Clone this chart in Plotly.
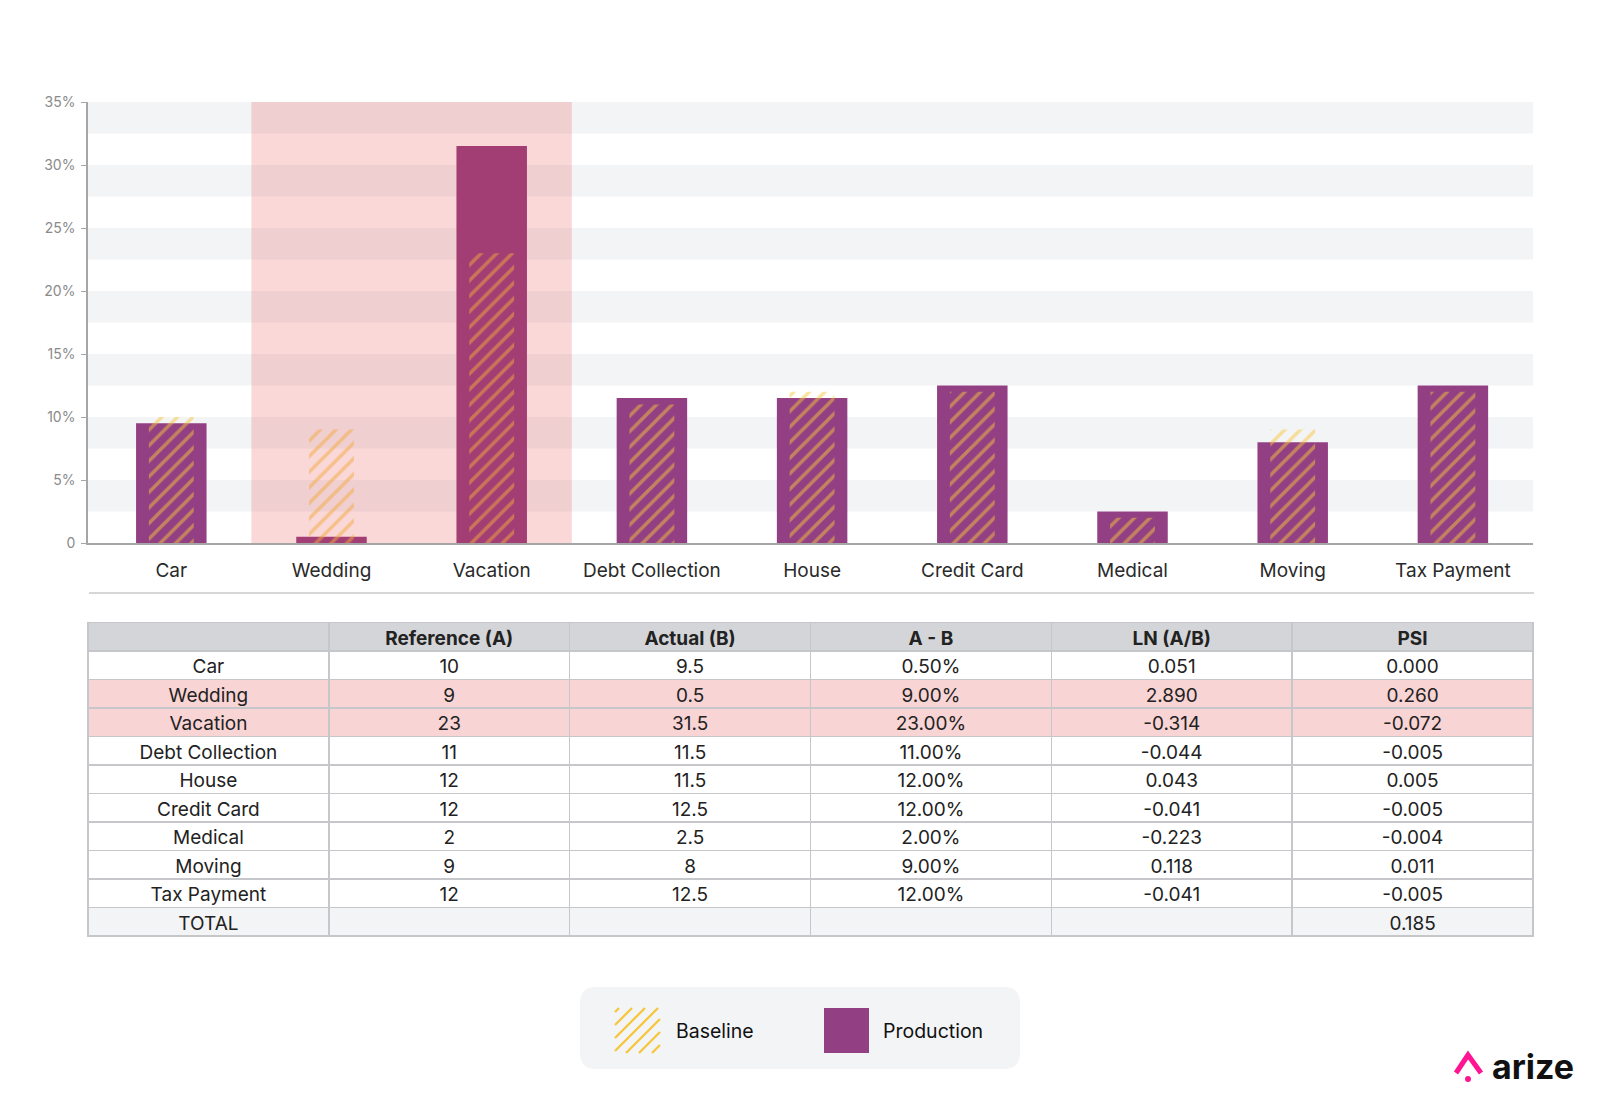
import plotly.graph_objects as go

W, H = 1600, 1104
FONT = "Inter, 'Noto Sans', sans-serif"

categories = ["Car", "Wedding", "Vacation", "Debt Collection", "House",
              "Credit Card", "Medical", "Moving", "Tax Payment"]
baseline = [10, 9, 23, 11, 12, 12, 2, 9, 12]            # Reference (A), %
production = [9.5, 0.5, 31.5, 11.5, 11.5, 12.5, 2.5, 8, 12.5]  # Actual (B), %
a_minus_b = ["0.50%", "9.00%", "23.00%", "11.00%", "12.00%", "12.00%",
             "2.00%", "9.00%", "12.00%"]
ln_ab = ["0.051", "2.890", "-0.314", "-0.044", "0.043", "-0.041",
         "-0.223", "0.118", "-0.041"]
psi = ["0.000", "0.260", "-0.072", "-0.005", "0.005", "-0.005",
       "-0.004", "0.011", "-0.005"]
psi_total = "0.185"
flagged = ["Wedding", "Vacation"]

y_ticks = [0, 5, 10, 15, 20, 25, 30, 35]
y_tick_text = ["0", "5%", "10%", "15%", "20%", "25%", "30%", "35%"]
header = ["", "Reference (A)", "Actual (B)", "A - B", "LN (A/B)", "PSI"]

PURPLE = "#933f83"
YELLOW = "#f7c63c"
PINK_ROW = "#f9d4d4"
BAND = "#f3f4f6"
HEAD = "#d4d5d8"


def px(x):
    return x / W


def py(y):
    return 1 - y / H


# ── Chart ─────────────────────────────────────────────────────────────────────
fig = go.Figure()
fig.add_trace(go.Bar(x=categories, y=production, name="Production",
                     width=0.44, marker=dict(color=PURPLE, line_width=0)))
fig.add_trace(go.Bar(x=categories, y=baseline, name="Baseline", width=0.28,
                     marker=dict(color="rgba(0,0,0,0)", line_width=0,
                                 pattern=dict(shape="/", fgcolor=YELLOW,
                                              bgcolor="rgba(0,0,0,0)",
                                              size=11, solidity=0.32))))

# alternating background bands
for lo in range(0, 35, 5):
    fig.add_shape(type="rect", xref="paper", yref="y",
                  x0=px(88), x1=px(1533), y0=lo + 2.5, y1=lo + 5,
                  fillcolor=BAND, line_width=0, layer="below")

# highlighted drift region
idx = [categories.index(c) for c in flagged]
fig.add_shape(type="rect", xref="x", yref="y",
              x0=min(idx) - 0.5, x1=max(idx) + 0.5, y0=0, y1=35,
              fillcolor="rgba(232,60,60,0.2)", line_width=0, layer="above")

# separator under the axis labels
fig.add_shape(type="line", xref="paper", yref="paper",
              x0=px(89), x1=px(1534), y0=py(593), y1=py(593),
              line=dict(color="#d6d6d6", width=2))

# ── Table ─────────────────────────────────────────────────────────────────────
row_names = categories + ["TOTAL"]
columns = [
    row_names,
    [f"{v:g}" for v in baseline] + [""],
    [f"{v:g}" for v in production] + [""],
    a_minus_b + [""],
    ln_ab + [""],
    psi + [psi_total],
]
row_fill = [PINK_ROW if c in flagged else "white" for c in categories] + [BAND]
grid = dict(color="#c6c7ca", width=1.5)

fig.add_trace(go.Table(
    domain=dict(x=[px(88), px(1533)], y=[0.10, py(622.5)]),
    columnwidth=[1] * 6,
    header=dict(values=header, fill_color=HEAD, align="center", height=28.5,
                line=grid,
                font=dict(family=FONT, size=19, color="#222222", weight=700)),
    cells=dict(values=columns, fill_color=[row_fill] * 6, align="center",
               height=28.5, line=grid,
               font=dict(family=FONT, size=19, color="#222222")),
))

# ── Custom legend ─────────────────────────────────────────────────────────────
bx0, bx1, by0, by1, r = 580, 1020, 987, 1069, 16
path = (f"M {px(bx0 + r)},{py(by0)} L {px(bx1 - r)},{py(by0)} "
        f"Q {px(bx1)},{py(by0)} {px(bx1)},{py(by0 + r)} "
        f"L {px(bx1)},{py(by1 - r)} Q {px(bx1)},{py(by1)} {px(bx1 - r)},{py(by1)} "
        f"L {px(bx0 + r)},{py(by1)} Q {px(bx0)},{py(by1)} {px(bx0)},{py(by1 - r)} "
        f"L {px(bx0)},{py(by0 + r)} Q {px(bx0)},{py(by0)} {px(bx0 + r)},{py(by0)} Z")
fig.add_shape(type="path", xref="paper", yref="paper", path=path,
              fillcolor=BAND, line_width=0)

# hatch swatch
sx0, sy0, s = 615, 1008, 45
segs = []
for k in range(-s + 4, s + 1, 13):
    pts = []
    for t in range(0, s + 1):
        xx = s + k - t
        if 0 <= xx <= s:
            pts.append((sx0 + xx, sy0 + t))
    if len(pts) > 3:
        (xa, ya), (xb, yb) = pts[0], pts[-1]
        segs.append(f"M {px(xa)},{py(ya)} L {px(xb)},{py(yb)}")
fig.add_shape(type="path", xref="paper", yref="paper", path=" ".join(segs),
              line=dict(color=YELLOW, width=2.3))
fig.add_annotation(xref="paper", yref="paper", x=px(674), y=py(1031),
                   text="Baseline", showarrow=False, xanchor="left",
                   yanchor="middle",
                   font=dict(family=FONT, size=19.5, color="#111111"))

fig.add_shape(type="rect", xref="paper", yref="paper",
              x0=px(824), x1=px(869), y0=py(1008), y1=py(1053),
              fillcolor=PURPLE, line_width=0)
fig.add_annotation(xref="paper", yref="paper", x=px(881), y=py(1031),
                   text="Production", showarrow=False, xanchor="left",
                   yanchor="middle",
                   font=dict(family=FONT, size=19.5, color="#111111"))

# ── Logo ──────────────────────────────────────────────────────────────────────
fig.add_shape(type="path", xref="paper", yref="paper",
              path=(f"M {px(1456)},{py(1073)} L {px(1468)},{py(1055)} "
                    f"L {px(1481)},{py(1073)}"),
              line=dict(color="#ff1493", width=5))
fig.add_shape(type="circle", xref="paper", yref="paper",
              x0=px(1465), x1=px(1471), y0=py(1076), y1=py(1082),
              fillcolor="#ff1493", line_width=0)
fig.add_annotation(xref="paper", yref="paper", x=px(1490), y=py(1066),
                   text="<b>arize</b>", showarrow=False, xanchor="left",
                   yanchor="middle",
                   font=dict(family=FONT, size=34, color="#111111"))

# ── Layout ────────────────────────────────────────────────────────────────────
fig.update_layout(
    width=W, height=H, margin=dict(l=0, r=0, t=0, b=0, autoexpand=False),
    paper_bgcolor="white", plot_bgcolor="white",
    barmode="overlay", showlegend=False, font=dict(family=FONT),
    xaxis=dict(domain=[px(88), px(1533)], range=[-0.52, 8.5],
               automargin=False,
               showgrid=False, showline=True, linecolor="#a6a6a6",
               linewidth=1.5, ticks="", ticklabelstandoff=9,
               tickfont=dict(family=FONT, size=19, color="#2a2a2a")),
    yaxis=dict(domain=[py(543), py(102)], range=[0, 35],
               automargin=False,
               tickvals=y_ticks, ticktext=y_tick_text,
               showgrid=False, zeroline=False, showline=True,
               linecolor="#a6a6a6", linewidth=1.5,
               ticks="outside", ticklen=5, tickcolor="#a6a6a6",
               ticklabelstandoff=3,
               tickfont=dict(family=FONT, size=14, color="#8a8a8a")),
)

fig.write_html("out.html", config={"displayModeBar": False},
               post_script="document.body.style.margin='0';")
